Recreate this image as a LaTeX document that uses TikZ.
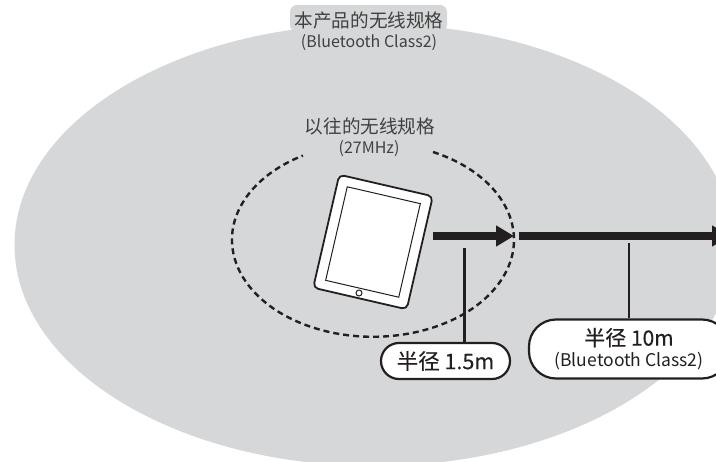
\documentclass[tikz,border=0pt]{standalone}
\usepackage{fontspec}
\setmainfont{Noto Sans CJK SC}
\usetikzlibrary{positioning,arrows.meta}
\definecolor{zonegray}{HTML}{D6D7D8}
\definecolor{inkdark}{HTML}{231F20}
\definecolor{labelgray}{HTML}{404040}
\tikzset{
  main label/.style={text=labelgray,inner sep=0pt,font=\fontsize{18.6}{20}\selectfont},
  sub label/.style={text=labelgray,inner sep=0pt,font=\fontsize{16}{18}\selectfont},
  range arrow/.style={draw=inkdark,line width=8pt,-{Triangle[length=18pt,width=20pt]}},
  leader/.style={draw=inkdark,line width=2.2pt},
  pill/.style={draw=inkdark,line width=2.2pt,fill=white,text=inkdark,inner sep=0pt,align=center}
}

\begin{document}
\begin{tikzpicture}[x=1pt,y=-1pt]
  \clip (0,0) rectangle (716,462);

  % zones
  \fill[zonegray] (374,245) ellipse [x radius=359.5pt,y radius=221pt];
  \fill[zonegray,rounded corners=7pt] (290,5) rectangle (447,32);
  \draw[inkdark,line width=2.4pt,dash pattern=on 6pt off 4pt]
    (433,152) arc [start angle=64.8,end angle=-240.2,x radius=141pt,y radius=97pt];

  \node[main label] (wide) at (369,20) {本产品的无线规格};
  \node[sub label] (wide sub) at (369,43) {(Bluetooth Class2)};
  \node[main label] (old) at (370,126) {以往的无线规格};
  \node[sub label] (old sub) at (369,149) {(27MHz)};

  % tablet
  \node[draw=inkdark,fill=white,line width=1.8pt,rounded corners=5pt,rotate=-13,
        minimum width=96pt,minimum height=116pt] (tablet) at (373,242) {};
  \node[draw=inkdark,fill=white,line width=1pt,rotate=-13,
        minimum width=75pt,minimum height=96pt] (screen) at (373,242) {};
  \node[draw=inkdark,fill=white,line width=1pt,circle,minimum size=6pt,inner sep=0pt] (button) at (359,293) {};

  % arrows
  \coordinate (near start) at (433,236);
  \coordinate (near end) at (514,236);
  \coordinate (far start) at (519,236);
  \coordinate (far end) at (730,236);
  \draw[range arrow] (near start) -- (near end);
  \draw[range arrow] (far start) -- (far end);

  % labels
  \node[pill,rounded corners=18pt,minimum width=129pt,minimum height=36pt,
        font=\fontsize{21.5}{24}\selectfont\addfontfeature{FakeBold=0.25}] (near pill) at (445.5,361) {半径 1.5m};
  \node[pill,rounded corners=27pt,minimum width=200pt,minimum height=59pt,
        font=\fontsize{17.5}{21}\selectfont] (far pill) at (629,349)
    {{\fontsize{21}{24}\selectfont\addfontfeature{FakeBold=0.25}半径 10m}\\(Bluetooth Class2)};

  \coordinate (near top) at (464.5,248);
  \coordinate (far top) at (629,243);
  \draw[leader] (near top) -- (near top |- near pill.north);
  \draw[leader] (far top) -- (far pill.north);
\end{tikzpicture}
\end{document}
